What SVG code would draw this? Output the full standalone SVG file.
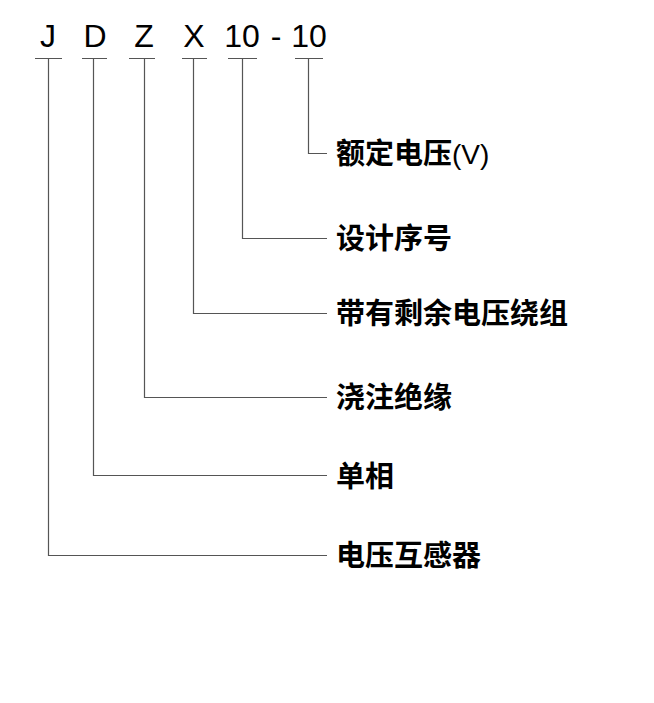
<svg xmlns="http://www.w3.org/2000/svg" width="654" height="703" viewBox="0 0 654 703">
<style>
.code{font-family:"Liberation Sans",Arial,sans-serif;font-size:32px;fill:#000}
.lbl{font-family:"Noto Sans CJK SC","Liberation Sans",sans-serif;font-size:29px;font-weight:bold;fill:#000}
.lat{font-family:"Liberation Sans",Arial,sans-serif;font-weight:normal;font-size:28px}
.ln{stroke:#555;stroke-width:1.2;fill:none}
</style>
<rect width="654" height="703" fill="#fff"/>
<g id="code">
<text class="code" x="48" y="47" text-anchor="middle">J</text>
<text class="code" x="95" y="47" text-anchor="middle">D</text>
<text class="code" x="144" y="47" text-anchor="middle">Z</text>
<text class="code" x="194" y="47" text-anchor="middle">X</text>
<text class="code" x="242" y="47" text-anchor="middle">10</text>
<text class="code" x="276" y="47" text-anchor="middle">-</text>
<text class="code" x="309" y="47" text-anchor="middle">10</text>
</g>
<g id="connectors" class="ln">
<path d="M35 58.5H62M48.5 58.5V555.5H327"/>
<path d="M82 58.5H107M93.5 58.5V475.5H327"/>
<path d="M129 58.5H155M144.5 58.5V397.5H327"/>
<path d="M182 58.5H207M193.5 58.5V313.5H327"/>
<path d="M228 58.5H257M242.5 58.5V238.5H327"/>
<path d="M295 58.5H323M308.5 58.5V153.5H327"/>
</g>
<g id="n-voltage"><text class="lbl" x="336" y="164">额定电压<tspan class="lat">(V)</tspan></text></g>
<g id="n-design"><text class="lbl" x="336" y="249">设计序号</text></g>
<g id="n-residual"><text class="lbl" x="336" y="324">带有剩余电压绕组</text></g>
<g id="n-cast"><text class="lbl" x="336" y="408">浇注绝缘</text></g>
<g id="n-single"><text class="lbl" x="336" y="487">单相</text></g>
<g id="n-vt"><text class="lbl" x="336" y="566">电压互感器</text></g>
</svg>
